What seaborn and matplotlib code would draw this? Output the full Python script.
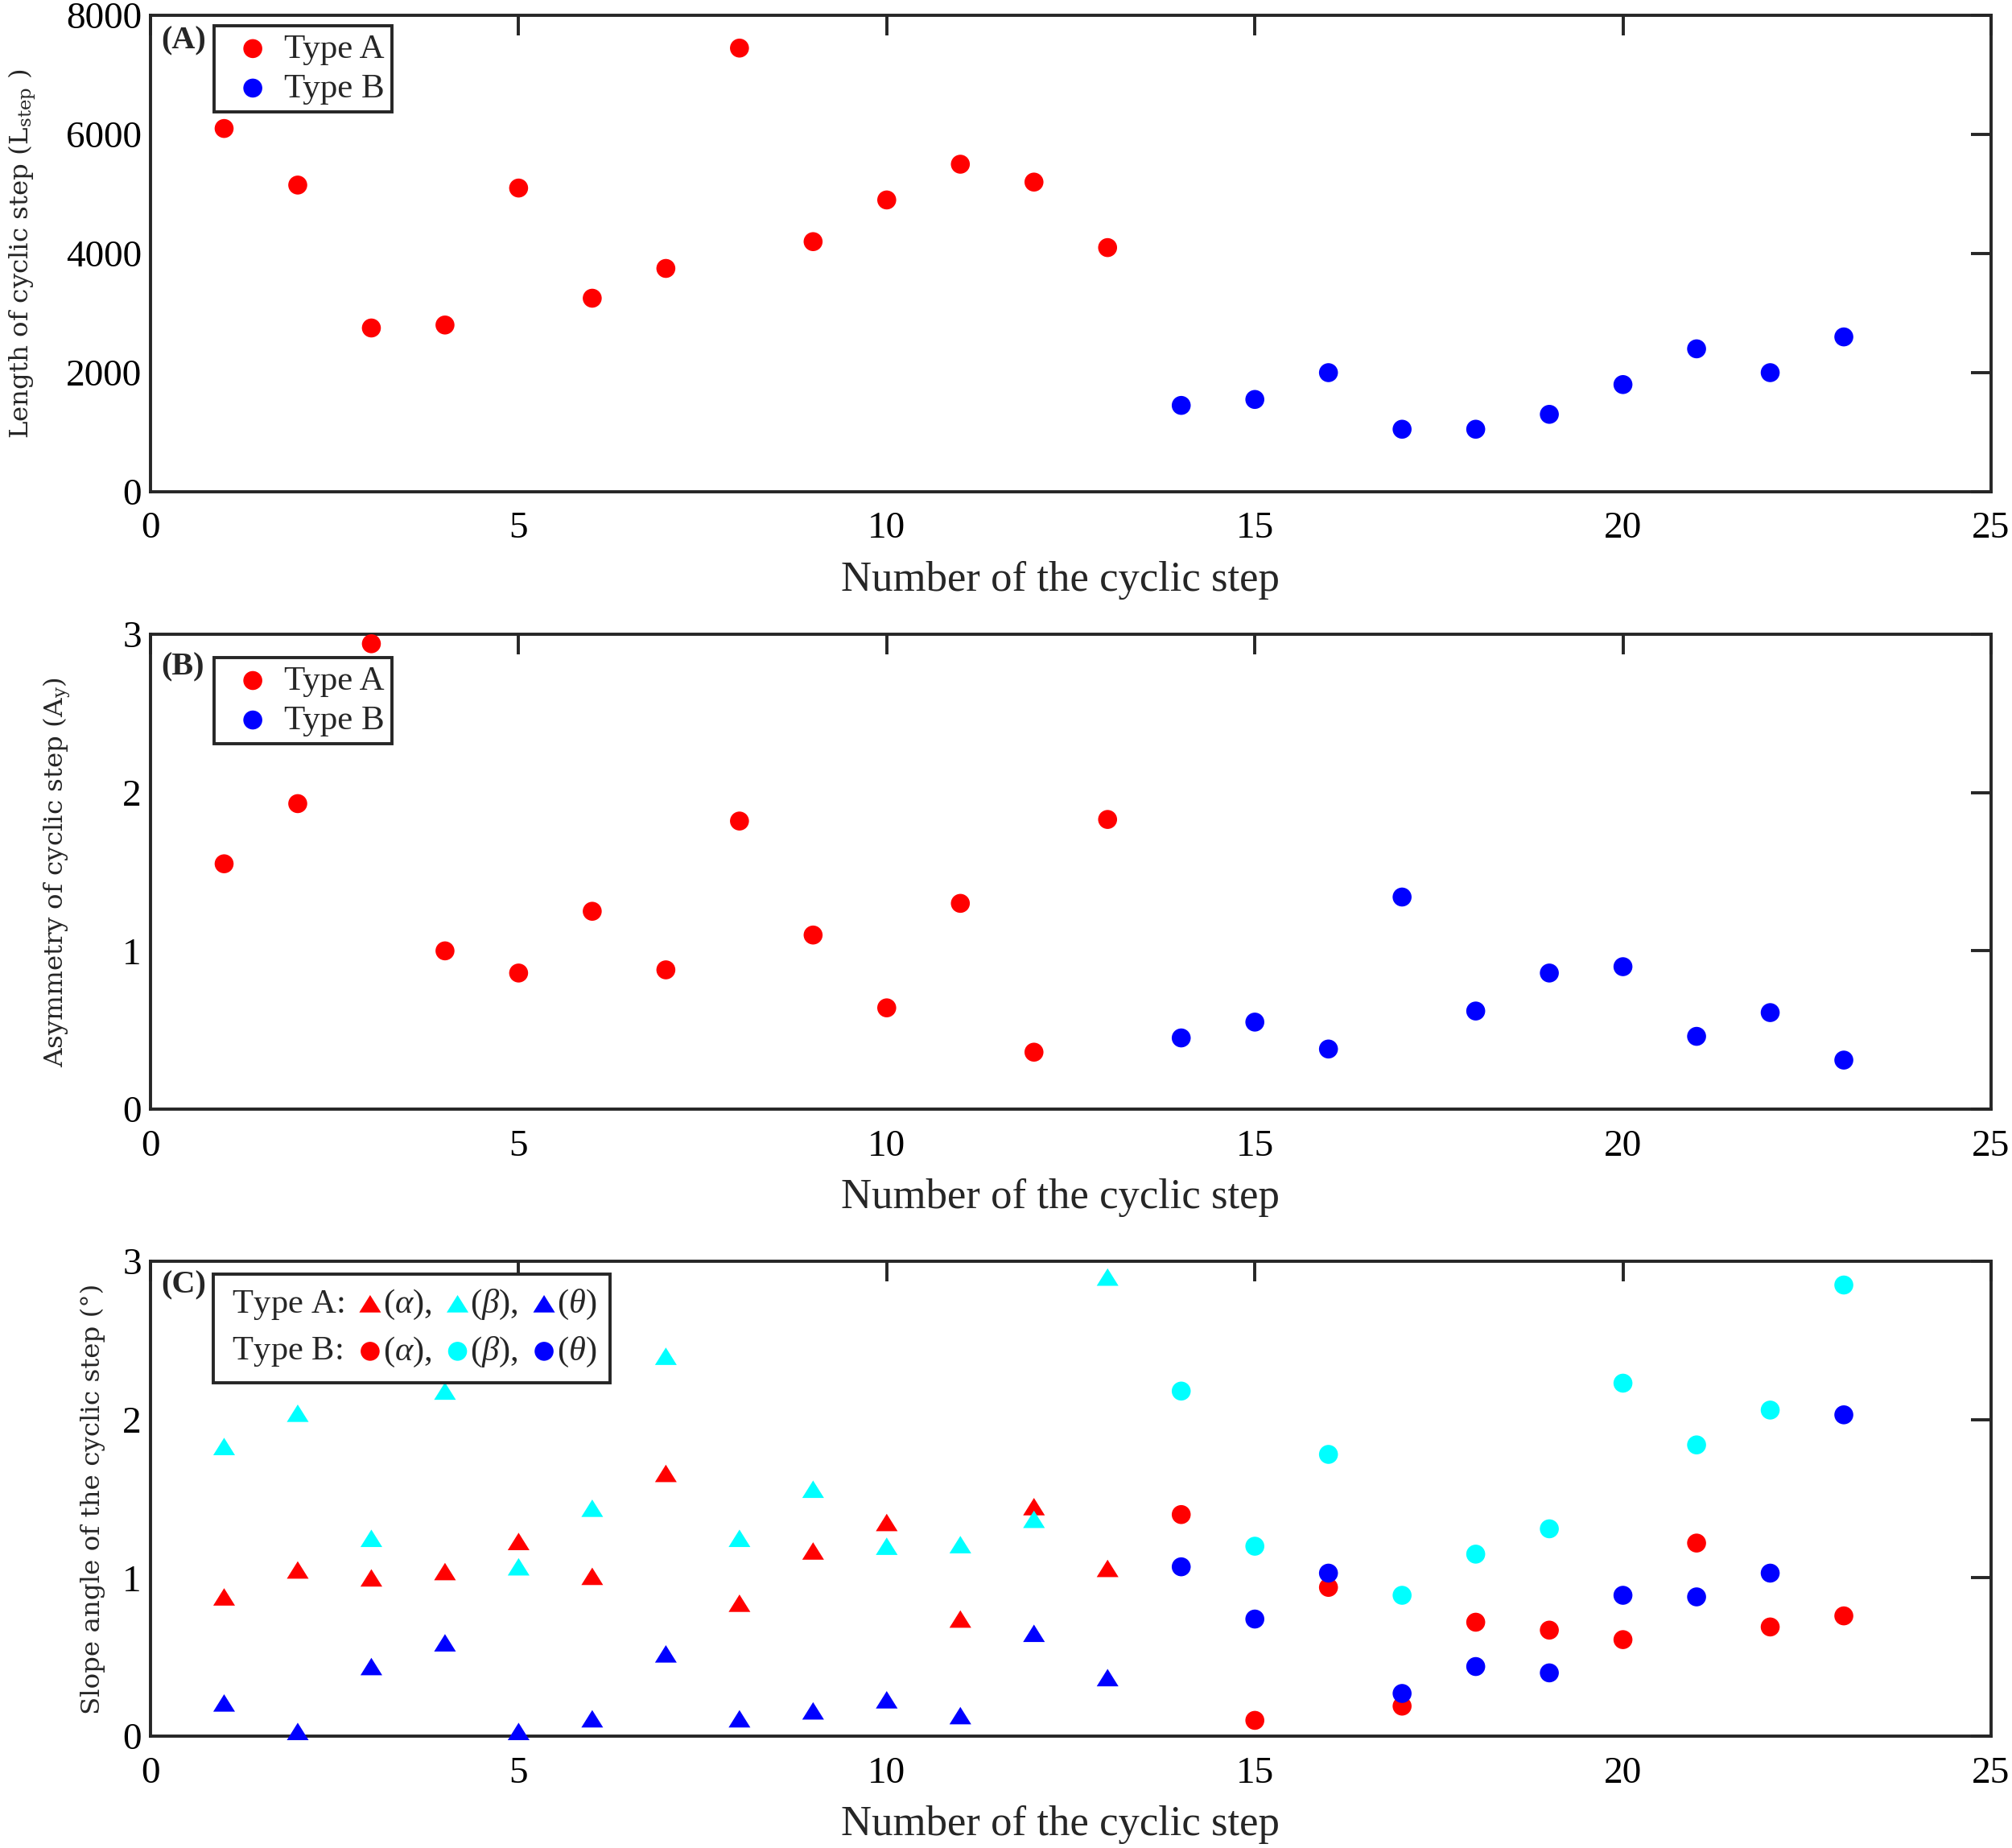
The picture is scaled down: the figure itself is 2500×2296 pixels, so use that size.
import numpy as np
import pandas as pd
import seaborn as sns
import matplotlib
matplotlib.use("Agg")
import matplotlib.pyplot as plt
from matplotlib.path import Path
from matplotlib.markers import MarkerStyle
from matplotlib.lines import Line2D

# ---------------- data ----------------
steps_a = list(range(1, 14))
steps_b = list(range(14, 24))

length_a = [6100, 5150, 2750, 2800, 5100, 3250, 3750, 7450, 4200, 4900, 5500, 5200, 4100]
length_b = [1450, 1550, 2000, 1050, 1050, 1300, 1800, 2400, 2000, 2600]

asym_a = [1.55, 1.93, 2.94, 1.00, 0.86, 1.25, 0.88, 1.82, 1.10, 0.64, 1.30, 0.36, 1.83]
asym_b = [0.45, 0.55, 0.38, 1.34, 0.62, 0.86, 0.90, 0.46, 0.61, 0.31]

alpha_a = [0.88, 1.05, 1.00, 1.04, 1.23, 1.01, 1.66, 0.84, 1.17, 1.35, 0.74, 1.45, 1.06]
beta_a = [1.83, 2.04, 1.25, 2.18, 1.07, 1.44, 2.40, 1.25, 1.56, 1.20, 1.21, 1.37, 2.90]
theta_a = [0.21, 0.03, 0.44, 0.59, 0.03, 0.11, 0.52, 0.11, 0.16, 0.23, 0.13, 0.65, 0.37]
alpha_b = [1.40, 0.10, 0.94, 0.19, 0.72, 0.67, 0.61, 1.22, 0.69, 0.76]
beta_b = [2.18, 1.20, 1.78, 0.89, 1.15, 1.31, 2.23, 1.84, 2.06, 2.85]
theta_b = [1.07, 0.74, 1.03, 0.27, 0.44, 0.40, 0.89, 0.88, 1.03, 2.03]

x_ticks = [0, 5, 10, 15, 20, 25]
yticks_len = [0, 2000, 4000, 6000, 8000]
yticks_unit = [0, 1, 2, 3]

# ---------------- style ----------------
sns.set_style("white")
plt.rcParams["font.family"] = ["Liberation Serif", "DejaVu Serif"]
plt.rcParams["mathtext.fontset"] = "custom"
plt.rcParams["mathtext.rm"] = "DejaVu Serif"
plt.rcParams["mathtext.it"] = "Liberation Serif:italic"
plt.rcParams["axes.edgecolor"] = "#262626"
plt.rcParams["axes.linewidth"] = 1.4

RED, CYAN, BLUE = "#ff0000", "#00ffff", "#0000ff"
tri = MarkerStyle(Path([(-1, -0.8), (1, -0.8), (0, 0.8), (-1, -0.8)],
                       [Path.MOVETO, Path.LINETO, Path.LINETO, Path.CLOSEPOLY]))
S_CIRC = 72
S_TRI = 95

fig = plt.figure(figsize=(12.5, 11.48), dpi=200)
positions = [
    [0.0748, 0.7339, 0.9148, 0.2578],
    [0.0748, 0.3998, 0.9148, 0.2570],
    [0.0748, 0.0605, 0.9148, 0.2570],
]
axes = [fig.add_axes(p) for p in positions]

TICK_FS = 17
XLAB_FS = 19
YLAB_FS = 11.7
LEG_FS = 15.5
LEGC_FS = 15.3


def style_axis(ax, yticks, ylim, ylabel, label_x, panel, panel_y):
    ax.set_xlim(0, 25)
    ax.set_ylim(*ylim)
    ax.set_xticks(x_ticks)
    ax.set_yticks(yticks)
    ax.tick_params(axis="both", direction="in", length=9, width=1.4,
                   top=True, right=True, labelsize=TICK_FS, colors="#262626",
                   labelcolor="black")
    ax.tick_params(axis="x", pad=9)
    ax.tick_params(axis="y", pad=4)
    ax.set_xlabel("Number of the cyclic step", fontsize=XLAB_FS)
    ax.xaxis.set_label_coords(0.4943, -0.145)
    ax.xaxis.label.set_va("top")
    ax.set_ylabel(ylabel, fontsize=YLAB_FS, family=["DejaVu Serif"])
    ax.yaxis.set_label_coords(label_x, 0.5)
    for sp in ax.spines.values():
        sp.set_visible(True)
        sp.set_color("#262626")
        sp.set_linewidth(1.4)
    ax.text(0.006, panel_y, panel, transform=ax.transAxes, fontsize=14.5,
            fontweight="bold", va="top", ha="left")


def ab_legend(ax, anchor_y):
    leg = ax.legend(loc="upper left", bbox_to_anchor=(0.0345, anchor_y),
                    fontsize=LEG_FS, frameon=True, fancybox=False,
                    edgecolor="#262626", framealpha=1,
                    handlelength=1.8, handletextpad=0.0, borderpad=0.22,
                    labelspacing=0.23, borderaxespad=0)
    leg.get_frame().set_linewidth(1.4)
    return leg


# ---------------- Panel A ----------------
ax = axes[0]
dfa = pd.DataFrame({"step": steps_a, "val": length_a})
dfb = pd.DataFrame({"step": steps_b, "val": length_b})
sns.scatterplot(data=dfa, x="step", y="val", color=RED, s=S_CIRC, linewidth=0,
                edgecolor="none", label="Type A", ax=ax, clip_on=False, zorder=3)
sns.scatterplot(data=dfb, x="step", y="val", color=BLUE, s=S_CIRC, linewidth=0,
                edgecolor="none", label="Type B", ax=ax, clip_on=False, zorder=3)
style_axis(ax, yticks_len, (0, 8000), r"Length of cyclic step (L$_{\rm step}$ )",
           -0.061, "(A)", 0.978)
ab_legend(ax, 0.978)

# ---------------- Panel B ----------------
ax = axes[1]
dfa = pd.DataFrame({"step": steps_a, "val": asym_a})
dfb = pd.DataFrame({"step": steps_b, "val": asym_b})
sns.scatterplot(data=dfa, x="step", y="val", color=RED, s=S_CIRC, linewidth=0,
                edgecolor="none", label="Type A", ax=ax, clip_on=False, zorder=3)
sns.scatterplot(data=dfb, x="step", y="val", color=BLUE, s=S_CIRC, linewidth=0,
                edgecolor="none", label="Type B", ax=ax, clip_on=False, zorder=3)
style_axis(ax, yticks_unit, (0, 3), r"Asymmetry of cyclic step (A$_{\rm y}$)",
           -0.0425, "(B)", 0.962)
ab_legend(ax, 0.9505)

# ---------------- Panel C ----------------
ax = axes[2]
series = [
    (steps_a, alpha_a, RED, tri, S_TRI, "A_alpha"),
    (steps_a, beta_a, CYAN, tri, S_TRI, "A_beta"),
    (steps_a, theta_a, BLUE, tri, S_TRI, "A_theta"),
    (steps_b, alpha_b, RED, "o", S_CIRC, "B_alpha"),
    (steps_b, beta_b, CYAN, "o", S_CIRC, "B_beta"),
    (steps_b, theta_b, BLUE, "o", S_CIRC, "B_theta"),
]
handles = {}
for xs, ys, col, mk, sz, name in series:
    d = pd.DataFrame({"step": xs, "val": ys})
    sns.scatterplot(data=d, x="step", y="val", color=col, marker=mk, s=sz,
                    linewidth=0, edgecolor="none", ax=ax, clip_on=False,
                    zorder=3, legend=False)
    handles[name] = ax.collections[-1]
style_axis(ax, yticks_unit, (0, 3), "Slope angle of the cyclic step (°)",
           -0.0245, "(C)", 0.980)

blank = Line2D([], [], linestyle="none", marker=None)
h_list = [blank, blank,
          handles["A_alpha"], handles["B_alpha"],
          handles["A_beta"], handles["B_beta"],
          handles["A_theta"], handles["B_theta"]]
l_list = [r"$\:$Type A:", r"$\:$Type B:",
          r"($\alpha$),", r"($\alpha$),",
          r"($\beta$),", r"($\beta$),",
          r"($\theta$)", r"($\theta$)"]
leg = ax.legend(h_list, l_list, ncol=4, loc="upper left",
                bbox_to_anchor=(0.0341, 0.973), fontsize=LEGC_FS,
                frameon=True, fancybox=False, edgecolor="#262626", framealpha=1,
                handlelength=0.75, handletextpad=0.0, borderpad=0.4,
                labelspacing=0.4, columnspacing=0.38, borderaxespad=0)
leg.get_frame().set_linewidth(1.4)
try:
    cols = leg._legend_handle_box.get_children()
    for entry in cols[0].get_children():
        ch = entry.get_children()
        ch[0].width = 0
        entry.sep = 0
except Exception:
    pass

fig.savefig("out.png", dpi=200)
